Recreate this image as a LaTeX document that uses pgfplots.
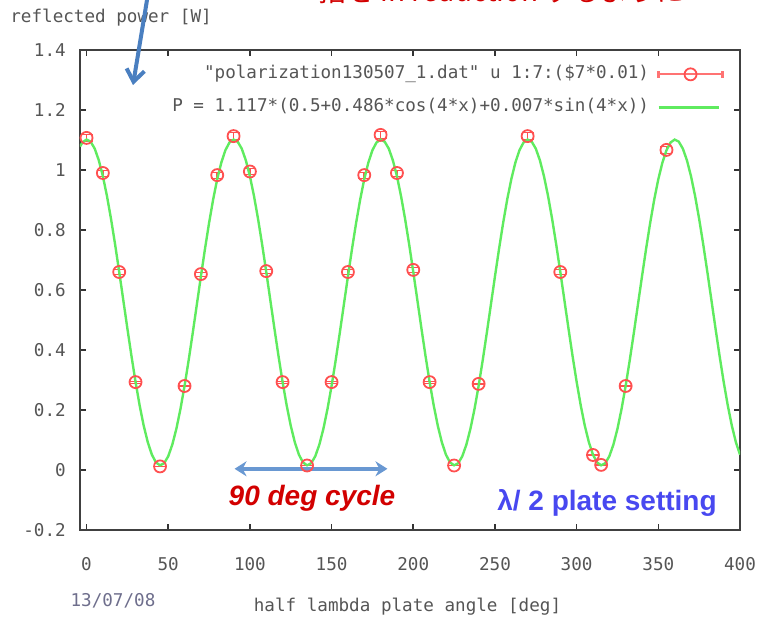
\documentclass[border=0pt]{standalone}
\usepackage{fontspec}
\usepackage{pgfplots}
\pgfplotsset{compat=1.18}
\usepackage{pgfplotstable}
\usetikzlibrary{arrows.meta}
\newfontfamily\gp{DejaVu Sans Mono}
\newfontfamily\ar{Liberation Sans}
\newfontfamily\jp{Noto Sans CJK JP}
\definecolor{gpred}{RGB}{255,80,80}
\definecolor{gpgreen}{RGB}{95,235,95}
\definecolor{txt}{RGB}{85,85,85}
\definecolor{annred}{RGB}{210,0,0}
\definecolor{annblue}{RGB}{72,72,240}
\definecolor{arrblue}{RGB}{74,127,192}
\definecolor{arrblueb}{RGB}{105,152,210}
\definecolor{datec}{RGB}{110,110,140}
\newcommand{\gpf}{\gp\fontsize{8.8bp}{10bp}\selectfont}

\pgfplotstableread{
x y e
0 1.107 0.011
10 0.990 0.010
20 0.660 0.007
30 0.293 0.003
45 0.012 0.001
60 0.280 0.003
70 0.653 0.007
80 0.983 0.010
90 1.113 0.011
100 0.995 0.010
110 0.663 0.007
120 0.293 0.003
135 0.015 0.001
150 0.293 0.003
160 0.660 0.007
170 0.983 0.010
180 1.117 0.011
190 0.990 0.010
200 0.667 0.007
210 0.293 0.003
225 0.015 0.001
240 0.287 0.003
270 1.113 0.011
290 0.660 0.007
310 0.050 0.001
315 0.017 0.001
330 0.280 0.003
355 1.067 0.011
}\datatab

\pgfplotstableread{
x y
-4 1.0782
-2.5 1.0918
0 1.1014
2.5 1.0945
5 1.0713
7.5 1.0325
10 0.9794
12.5 0.9134
15 0.8367
17.5 0.7515
20 0.6605
22.5 0.5663
25 0.4719
27.5 0.3802
30 0.2938
32.5 0.2155
35 0.1477
37.5 0.0923
40 0.0511
42.5 0.0252
45 0.0156
47.5 0.0225
50 0.0457
52.5 0.0845
55 0.1376
57.5 0.2036
60 0.2803
62.5 0.3655
65 0.4565
67.5 0.5507
70 0.6451
72.5 0.7368
75 0.8232
77.5 0.9015
80 0.9693
82.5 1.0247
85 1.0660
87.5 1.0918
90 1.1014
92.5 1.0945
95 1.0713
97.5 1.0325
100 0.9794
102.5 0.9134
105 0.8367
107.5 0.7515
110 0.6605
112.5 0.5663
115 0.4719
117.5 0.3802
120 0.2938
122.5 0.2155
125 0.1477
127.5 0.0923
130 0.0511
132.5 0.0252
135 0.0156
137.5 0.0225
140 0.0457
142.5 0.0845
145 0.1376
147.5 0.2036
150 0.2803
152.5 0.3655
155 0.4565
157.5 0.5507
160 0.6451
162.5 0.7368
165 0.8232
167.5 0.9015
170 0.9693
172.5 1.0247
175 1.0660
177.5 1.0918
180 1.1014
182.5 1.0945
185 1.0713
187.5 1.0325
190 0.9794
192.5 0.9134
195 0.8367
197.5 0.7515
200 0.6605
202.5 0.5663
205 0.4719
207.5 0.3802
210 0.2938
212.5 0.2155
215 0.1477
217.5 0.0923
220 0.0511
222.5 0.0252
225 0.0156
227.5 0.0225
230 0.0457
232.5 0.0845
235 0.1376
237.5 0.2036
240 0.2803
242.5 0.3655
245 0.4565
247.5 0.5507
250 0.6451
252.5 0.7368
255 0.8232
257.5 0.9015
260 0.9693
262.5 1.0247
265 1.0660
267.5 1.0918
270 1.1014
272.5 1.0945
275 1.0713
277.5 1.0325
280 0.9794
282.5 0.9134
285 0.8367
287.5 0.7515
290 0.6605
292.5 0.5663
295 0.4719
297.5 0.3802
300 0.2938
302.5 0.2155
305 0.1477
307.5 0.0923
310 0.0511
312.5 0.0252
315 0.0156
317.5 0.0225
320 0.0457
322.5 0.0845
325 0.1376
327.5 0.2036
330 0.2803
332.5 0.3655
335 0.4565
337.5 0.5507
340 0.6451
342.5 0.7368
345 0.8232
347.5 0.9015
350 0.9693
352.5 1.0247
355 1.0660
357.5 1.0918
360 1.1014
362.5 1.0945
365 1.0713
367.5 1.0325
370 0.9794
372.5 0.9134
375 0.8367
377.5 0.7515
380 0.6605
382.5 0.5663
385 0.4719
387.5 0.3802
390 0.2938
392.5 0.2155
395 0.1477
397.5 0.0923
400 0.0511
}\fittab

\begin{document}
\begin{tikzpicture}
\useasboundingbox (-40bp,-45.5bp) rectangle (340bp,265bp);
\begin{axis}[
  at={(0,0)}, anchor=south west,
  scale only axis, width=330bp, height=240bp,
  xmin=-4, xmax=400, ymin=-0.2, ymax=1.4,
  xtick={0,50,100,150,200,250,300,350,400},
  ytick={-0.2,0,0.2,0.4,0.6,0.8,1,1.2,1.4},
  tick align=inside, major tick length=3bp,
  axis line style={black!75, line width=1.3bp},
  tick style={black!80, line width=0.8bp},
  /pgf/number format/assume math mode=true,
  ticklabel style={font=\gpf, text=txt},
  xticklabel style={yshift=-10bp},
  yticklabel style={xshift=-3.6bp},
  legend cell align=right,
  legend plot pos=right,
  legend style={at={(0.9758,0.972)}, anchor=north east, draw=none, fill=none,
    inner sep=0pt, row sep=6bp, column sep=3bp, font=\gpf, text=txt,
    nodes={text height=6.5bp, text depth=2bp, inner sep=1bp}},
]
\draw[arrblueb, line width=1.8bp, {Stealth[length=6bp,width=7.5bp]}-{Stealth[length=6bp,width=7.5bp]}] (axis cs:90.6,0.004) -- (axis cs:184.2,0.004);
\addplot[gpred, only marks, mark=o, mark size=3bp, line width=0.9bp,
  mark options={fill=gpred!25},
  legend image code/.code={
    \draw[gpred!80, line width=1.1bp] (0bp,-1.8bp)--(0bp,1.8bp) (0bp,0bp)--(32bp,0bp) (32bp,-1.8bp)--(32bp,1.8bp);
    \draw[gpred, line width=0.9bp] plot[mark=o, mark size=3bp, mark options={fill=gpred!25}] coordinates {(16bp,0bp)};
  },
  error bars/.cd, y dir=both, y explicit,
  error bar style={gpred, line width=0.8bp}]
  table[x=x, y=y, y error=e] {\datatab};
\addlegendentry{"polarization130507\_1.dat" u 1:7:(\$7*0.01)}
\addplot[gpgreen, line width=1.2bp, no marks,
  legend image code/.code={\draw[gpgreen, line width=1.4bp] (0bp,0bp)--(30bp,0bp);}]
  table[x=x, y=y] {\fittab};
\addlegendentry{P = 1.117*(0.5+0.486*cos(4*x)+0.007*sin(4*x))}
\end{axis}
\node[anchor=base west, inner sep=0pt, font=\gpf, text=txt] at (-35bp,253.5bp) {reflected power [W]};
\node[anchor=base, inner sep=0pt, font=\gpf, text=txt] at (163.75bp,-40.5bp) {half lambda plate angle [deg]};
\node[anchor=base, inner sep=0pt, font=\gpf, text=datec] at (16.5bp,-38bp) {13/07/08};
\node[anchor=base, inner sep=0pt, font=\ar\bfseries\itshape\fontsize{14bp}{16bp}\selectfont, text=annred] at (116bp,12.5bp) {90 deg cycle};
\node[anchor=base, inner sep=0pt, font=\ar\bfseries\fontsize{14bp}{16bp}\selectfont, text=annblue] at (263.5bp,10bp) {λ/ 2 plate setting};
\node[anchor=base west, inner sep=0pt, font=\jp\fontsize{14bp}{16bp}\selectfont, text=annred] at (119bp,264bp) {指を in reduction するように};
\draw[arrblue, line width=2bp, -{Straight Barb[length=6bp,width=9bp]}] (34bp,268bp) -- (26.5bp,222.5bp);
\end{tikzpicture}
\end{document}
